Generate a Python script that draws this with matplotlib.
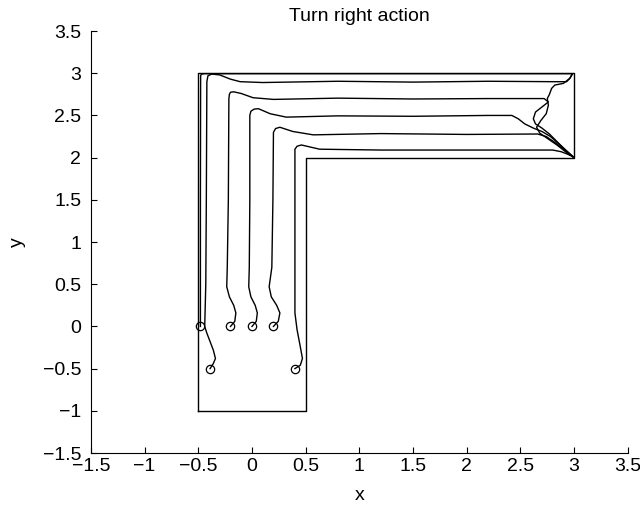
import numpy as np
import matplotlib.pyplot as plt
from matplotlib.ticker import FuncFormatter

plt.rcParams['font.family'] = ['Liberation Sans', 'DejaVu Sans']

# corridor outline (L shape)
wall_x = [-0.5, 0.5, 0.5, 3.0, 3.0, -0.5, -0.5]
wall_y = [-1.0, -1.0, 2.0, 2.0, 3.0, 3.0, -1.0]

# start positions of the robots
start_x = [-0.48, -0.39, -0.20, 0.00, 0.20, 0.40]
start_y = [0.00, -0.50, 0.00, 0.00, 0.00, -0.50]

# trajectories
path_a_x = [-0.48, -0.48, -0.478, -0.47, -0.44, 0.5, 1.5, 2.5, 2.90, 2.975, 2.985,
            2.96, 2.90, 2.82, 2.79, 2.77, 2.75, 2.76, 2.74, 2.69, 2.65, 2.68, 2.76,
            2.84, 2.92, 2.99]
path_a_y = [0.0, 1.5, 2.97, 2.99, 2.995, 2.995, 2.995, 2.995, 2.995, 2.995, 2.99,
            2.94, 2.88, 2.86, 2.82, 2.75, 2.70, 2.62, 2.52, 2.44, 2.36, 2.29, 2.22,
            2.15, 2.07, 2.01]

path_b_x = [-0.39, -0.36, -0.34, -0.36, -0.39, -0.42, -0.44, -0.43, -0.425, -0.42,
            -0.41, -0.375, -0.30, -0.20, -0.11, 0.10, 0.8, 1.5, 2.2, 2.80, 2.93,
            2.96, 2.98]
path_b_y = [-0.50, -0.44, -0.38, -0.28, -0.18, -0.08, 0.0, 0.5, 1.5, 2.90, 2.97,
            2.99, 2.98, 2.93, 2.90, 2.89, 2.905, 2.895, 2.905, 2.90, 2.90, 2.94, 2.99]

path_c_x = [-0.20, -0.16, -0.15, -0.17, -0.21, -0.235, -0.23, -0.22, -0.215, -0.21,
            -0.20, -0.17, -0.10, 0.01, 0.20, 0.8, 1.5, 2.2, 2.60, 2.72, 2.76, 2.70,
            2.64, 2.62, 2.64, 2.70, 2.77, 2.84, 2.92, 2.99]
path_c_y = [0.0, 0.06, 0.16, 0.25, 0.35, 0.47, 0.7, 1.5, 2.70, 2.75, 2.775, 2.78,
            2.76, 2.71, 2.69, 2.705, 2.695, 2.70, 2.70, 2.70, 2.66, 2.60, 2.54, 2.46,
            2.40, 2.35, 2.28, 2.19, 2.09, 2.01]

path_d_x = [0.0, 0.04, 0.05, 0.03, -0.01, -0.03, -0.025, -0.02, -0.02, -0.01, 0.02,
            0.06, 0.17, 0.32, 0.8, 1.5, 2.2, 2.42, 2.48, 2.54, 2.62, 2.70, 2.78,
            2.86, 2.93, 2.99]
path_d_y = [0.0, 0.06, 0.16, 0.25, 0.35, 0.47, 0.7, 1.5, 2.50, 2.55, 2.575, 2.58,
            2.52, 2.48, 2.495, 2.49, 2.50, 2.50, 2.46, 2.40, 2.35, 2.31, 2.25, 2.16,
            2.08, 2.01]

path_e_x = [0.20, 0.245, 0.26, 0.23, 0.18, 0.16, 0.185, 0.195, 0.20, 0.22, 0.26,
            0.38, 0.57, 1.2, 2.0, 2.66, 2.74, 2.82, 2.90, 2.96, 2.99]
path_e_y = [0.0, 0.06, 0.16, 0.25, 0.35, 0.47, 0.7, 1.5, 2.30, 2.345, 2.36, 2.31,
            2.27, 2.285, 2.275, 2.28, 2.25, 2.18, 2.10, 2.04, 2.01]

path_f_x = [0.40, 0.45, 0.47, 0.45, 0.42, 0.40, 0.40, 0.40, 0.42, 0.46, 0.63, 1.2,
            2.0, 2.80, 2.88, 2.94, 2.99]
path_f_y = [-0.50, -0.46, -0.38, -0.24, -0.04, 0.16, 1.0, 2.10, 2.135, 2.15, 2.10,
            2.09, 2.09, 2.09, 2.07, 2.04, 2.01]

paths = [(path_a_x, path_a_y), (path_b_x, path_b_y), (path_c_x, path_c_y),
         (path_d_x, path_d_y), (path_e_x, path_e_y), (path_f_x, path_f_y)]

ticks = np.arange(-1.5, 3.51, 0.5)

fig = plt.figure(figsize=(6.4, 5.09), dpi=100)
ax = fig.add_axes([0.142, 0.110, 0.839, 0.829])

ax.plot(wall_x, wall_y, color='black', lw=1.0)
for px, py in paths:
    ax.plot(px, py, color='black', lw=1.0)
ax.plot(start_x, start_y, 'o', mfc='none', mec='black', ms=6, mew=0.9)

ax.set_xlim(-1.5, 3.5)
ax.set_ylim(-1.5, 3.5)
ax.set_xticks(ticks)
ax.set_yticks(ticks)
fmt = FuncFormatter(lambda v, p: f"{v:g}".replace('-', '\u2212'))
ax.xaxis.set_major_formatter(fmt)
ax.yaxis.set_major_formatter(fmt)
ax.tick_params(direction='in', length=4, width=0.8, labelsize=14)
ax.tick_params(axis='x', pad=3.5)
ax.tick_params(axis='y', pad=7)
ax.spines['top'].set_visible(False)
ax.spines['right'].set_visible(False)

ax.set_title("Turn right action", fontsize=14, pad=7)
ax.set_xlabel("x", fontsize=14)
ax.set_ylabel("y", fontsize=14)
ax.xaxis.set_label_coords(0.5, -0.08)
ax.yaxis.set_label_coords(-0.12, 0.5)

fig.savefig("out.png", dpi=100)
